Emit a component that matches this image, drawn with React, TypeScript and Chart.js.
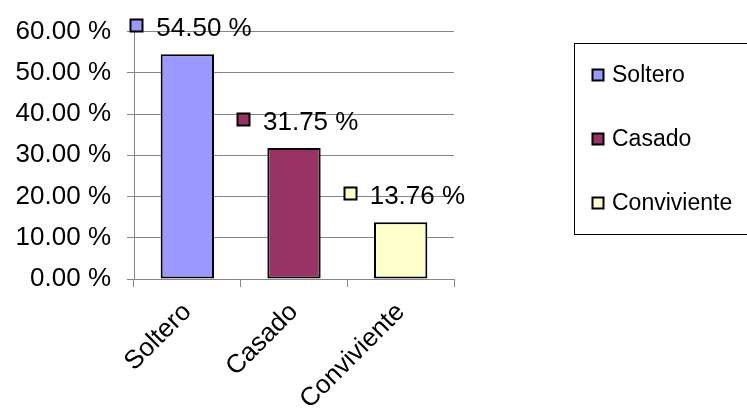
import React, { useEffect, useRef } from "react";
import { Chart, registerables } from "chart.js";

Chart.register(...registerables);

const categories = ["Soltero", "Casado", "Conviviente"];
const values = [54.5, 31.75, 13.76];
const colors = ["#9999FF", "#993366", "#FFFFCC"];
const yMin = 0;
const yMax = 60;
const yStep = 10;

const FONT = "'Liberation Sans', Arial, Helvetica, sans-serif";
const GRID = "#868686";

const fmt = (v: number) => v.toFixed(2) + " %";

const barLabelPlugin = {
  id: "barLabels",
  afterDatasetsDraw(chart: any) {
    const ctx = chart.ctx;
    const meta = chart.getDatasetMeta(0);
    ctx.save();
    meta.data.forEach((bar: any, i: number) => {
      const x = bar.x;
      const y = bar.y;
      const sx = Math.round(x - 57) + 0.5;
      const sy = Math.round(y - 35) + 0.5;
      ctx.fillStyle = colors[i];
      ctx.fillRect(sx, sy, 12, 12);
      ctx.lineWidth = 2;
      ctx.strokeStyle = "#000";
      ctx.strokeRect(sx, sy, 12, 12);
      ctx.font = `26px ${FONT}`;
      ctx.fillStyle = "#000";
      ctx.textAlign = "left";
      ctx.textBaseline = "middle";
      ctx.fillText(fmt(values[i]), x - 31, y - 25);
    });
    ctx.restore();
  },
};

const legendPlugin = {
  id: "boxLegend",
  afterDraw(chart: any) {
    const ctx = chart.ctx;
    ctx.save();
    ctx.lineWidth = 1;
    ctx.strokeStyle = "#000";
    ctx.strokeRect(574.5, 43.5, 220, 191);
    ctx.font = `23px ${FONT}`;
    ctx.textAlign = "left";
    ctx.textBaseline = "middle";
    categories.forEach((c, i) => {
      const cy = 75 + i * 64;
      ctx.fillStyle = colors[i];
      ctx.fillRect(592.5, cy - 5.5, 11, 11);
      ctx.lineWidth = 2;
      ctx.strokeStyle = "#000";
      ctx.strokeRect(592.5, cy - 5.5, 11, 11);
      ctx.fillStyle = "#000";
      ctx.fillText(c, 612, cy + 1);
    });
    ctx.restore();
  },
};

export default function App() {
  const ref = useRef<HTMLCanvasElement>(null);
  useEffect(() => {
    if (!ref.current) return;
    const chart = new Chart(ref.current, {
      type: "bar",
      data: {
        labels: categories,
        datasets: [
          {
            data: values,
            backgroundColor: colors,
            borderColor: "#000",
            borderWidth: 2,
            borderSkipped: false,
            barPercentage: 0.5,
            categoryPercentage: 1,
          },
        ],
      },
      options: {
        animation: false,
        responsive: false,
        devicePixelRatio: 1,
        layout: { padding: { top: 27, right: 293, left: 0, bottom: 0 } },
        plugins: {
          legend: { display: false },
          tooltip: { enabled: false },
        },
        scales: {
          x: {
            afterFit: (s: any) => {
              s.height = 129;
            },
            grid: {
              display: true,
              offset: true,
              drawOnChartArea: false,
              drawTicks: true,
              tickLength: 8,
              color: GRID,
            },
            border: { display: true, color: GRID, width: 1 },
            ticks: {
              minRotation: 45,
              maxRotation: 45,
              autoSkip: false,
              padding: 10,
              color: "#000",
              font: { family: FONT, size: 26 },
            },
          },
          y: {
            min: yMin,
            max: yMax,
            afterFit: (s: any) => {
              s.width = 134;
            },
            grid: { color: GRID, tickLength: 7, drawTicks: true },
            border: { display: true, color: GRID, width: 1 },
            ticks: {
              stepSize: yStep,
              padding: 16,
              color: "#000",
              font: { family: FONT, size: 26 },
              callback: (v: any) => fmt(Number(v)),
            },
          },
        },
      },
      plugins: [barLabelPlugin, legendPlugin],
    });
    return () => chart.destroy();
  }, []);
  return (
    <div
      style={{
        position: "fixed",
        left: 0,
        top: 0,
        width: 747,
        height: 408,
        overflow: "hidden",
        background: "#fff",
      }}
    >
      <canvas ref={ref} width={747} height={408} style={{ display: "block" }} />
    </div>
  );
}
